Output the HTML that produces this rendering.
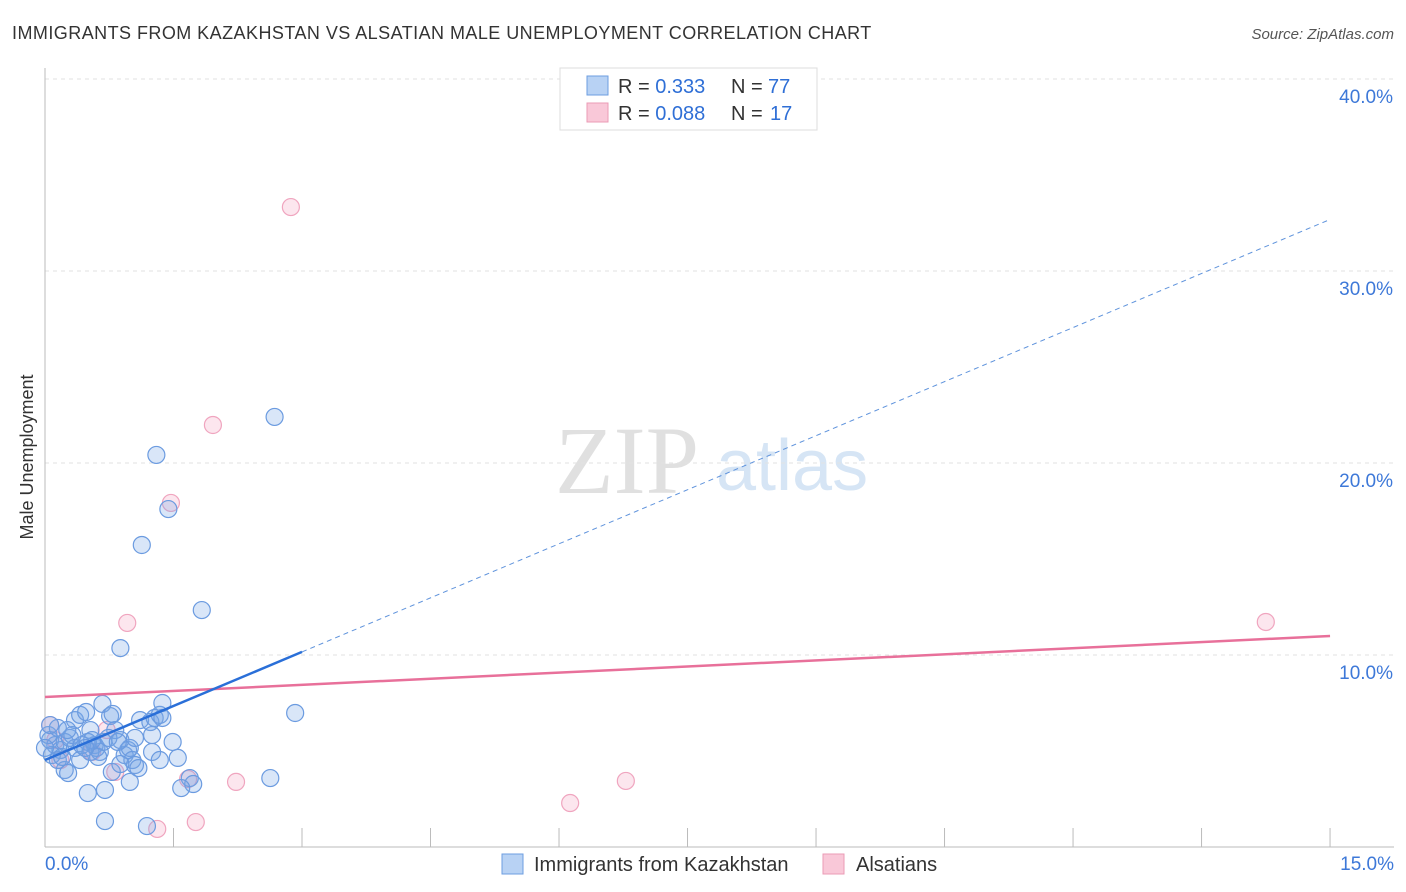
<!DOCTYPE html>
<html><head><meta charset="utf-8"><style>
body{margin:0;background:#fff;font-family:"Liberation Sans",sans-serif}
svg{display:block}
</style></head><body>
<svg id="c" width="1406" height="892">
<text x="12" y="39" font-size="18" fill="#333" letter-spacing="0.45">IMMIGRANTS FROM KAZAKHSTAN VS ALSATIAN MALE UNEMPLOYMENT CORRELATION CHART</text>
<text x="1394" y="39" font-size="15" fill="#555" font-style="italic" text-anchor="end">Source: ZipAtlas.com</text>
<text x="555" y="493" font-size="96" fill="#e0e0e0" font-family="Liberation Serif,serif">ZIP</text>
<text x="716" y="490" font-size="72" fill="#d6e5f5">atlas</text>
<text transform="translate(33,457) rotate(-90)" font-size="18" fill="#333" text-anchor="middle">Male Unemployment</text>
<g id="grid"></g><g id="marks"></g>
<g>
<rect x="560" y="68" width="257" height="62" fill="#fff" stroke="#ddd"/>
<rect x="587" y="76" width="21" height="19" fill="#b8d2f4" stroke="#6d9ee0"/>
<rect x="587" y="103" width="21" height="19" fill="#f9c8d8" stroke="#eb9bb6"/>
<text x="618" y="93" font-size="20" fill="#333">R = <tspan fill="#2f6fd6">0.333</tspan><tspan x="731">N = </tspan><tspan x="768" fill="#2f6fd6">77</tspan></text>
<text x="618" y="120" font-size="20" fill="#333">R = <tspan fill="#2f6fd6">0.088</tspan><tspan x="731">N = </tspan><tspan x="770" fill="#2f6fd6">17</tspan></text>
</g>
<g>
<rect x="502" y="854" width="21" height="20" fill="#b8d2f4" stroke="#6d9ee0"/>
<text x="534" y="871" font-size="20" fill="#333">Immigrants from Kazakhstan</text>
<rect x="823" y="854" width="21" height="20" fill="#f9c8d8" stroke="#eb9bb6"/>
<text x="856" y="871" font-size="20" fill="#333">Alsatians</text>
</g>
</svg>
<script>
const blueX=[2.68,1.30,1.44,1.13,1.83,0.88,2.92,2.63,0.06,0.12,0.04,0.18,0.08,0.23,0.29,0.15,0.35,0.41,0.48,0.53,0.58,0.64,0.67,0.76,0.79,0.82,0.88,0.93,0.97,0.99,1.02,1.05,1.09,1.11,1.23,1.28,1.34,1.37,1.37,1.25,1.25,1.34,1.49,1.55,0.78,0.99,0.70,0.50,0.23,0.27,0,0.15,0.20,0.35,0.41,0.53,0.60,0.68,0.74,0.85,1.05,0.06,0.32,0.50,0.55,0.62,0.43,1.69,1.73,1.59,0.70,1.19,0.47,0.26,0.88];
const blueY=[22.40,20.42,17.60,15.73,12.34,10.36,6.98,3.59,5.57,5.31,5.83,5.05,4.79,5.47,5.68,6.20,6.61,6.88,7.03,6.09,5.31,4.95,7.45,6.82,6.93,6.09,5.57,4.79,5.05,5.16,4.53,4.27,4.11,6.61,6.51,6.72,6.88,7.50,6.72,5.83,4.95,4.53,5.47,4.64,3.91,3.39,2.97,2.81,4.01,3.85,5.16,4.53,4.69,5.16,4.53,4.95,5.16,5.47,5.68,5.47,5.68,6.35,5.83,5.47,5.57,4.69,5.31,3.59,3.28,3.07,1.35,1.09,5.16,6.09,4.32];
const pinkX=[2.87,1.96,1.47,0.96,14.25,6.78,6.13,2.23,1.67,1.76,1.31,0.06,0.12,0.72,0.82,0.55,0.18];
const pinkY=[33.33,21.98,17.92,11.67,11.72,3.44,2.29,3.39,3.54,1.30,0.94,6.35,5.57,6.09,3.91,4.95,4.53];
const yTicks=[10,20,30,40];
const xTickVals=[0,1.5,3,4.5,6,7.5,9,10.5,12,13.5,15];
const blueFit=[4.53,1.877];
const pinkFit=[7.81,0.212];
const NS="http://www.w3.org/2000/svg";
const X=v=>45+v*85.67, Y=v=>847-v*19.2;
function mk(parent,tag,at){const e=document.createElementNS(NS,tag);for(const k in at)e.setAttribute(k,at[k]);parent.appendChild(e);return e;}
const g=document.getElementById('grid'), m=document.getElementById('marks');
yTicks.forEach(t=>{
 const l=mk(g,'line',{x1:45,x2:1394,y1:Y(t),y2:Y(t),stroke:'#e2e2e2','stroke-dasharray':'4,4'});
 
 
 const tx=mk(g,'text',{x:1393,y:Y(t)+24,'font-size':19,fill:'#3d78d8','text-anchor':'end'});tx.textContent=t.toFixed(1)+'%';
 
 
});
mk(g,'line',{x1:45,x2:45,y1:68,y2:847,stroke:'#bbb'});
mk(g,'line',{x1:45,x2:1394,y1:847,y2:847,stroke:'#bbb'});
xTickVals.forEach(t=>{const l=mk(g,'line',{x1:X(t),x2:X(t),y1:828,y2:847,stroke:'#bbb'});
 
 });
[[0,'0.0%','start',45],[15,'15.0%','end',1394]].forEach(a=>{const t=mk(g,'text',{x:a[3],y:870,'font-size':19,fill:'#3d78d8','text-anchor':a[2]});t.textContent=a[1];
 
 });
pinkX.forEach((x,i)=>{const c=mk(m,'circle',{cx:X(x),cy:Y(pinkY[i]),r:8.5,fill:'rgba(245,165,195,0.28)',stroke:'#f0a5bf','stroke-width':1.2});
 
 });
blueX.forEach((x,i)=>{const c=mk(m,'circle',{cx:X(x),cy:Y(blueY[i]),r:8.5,fill:'rgba(120,165,230,0.28)',stroke:'#6b9be0','stroke-width':1.2});
 
 });
const pl=mk(m,'line',{x1:X(0),y1:Y(pinkFit[0]),x2:X(15),y2:Y(pinkFit[0]+pinkFit[1]*15),stroke:'#e8709a','stroke-width':2.5});


const bl=mk(m,'line',{x1:X(0),y1:Y(blueFit[0]),x2:X(3),y2:Y(blueFit[0]+blueFit[1]*3),stroke:'#2a6fd8','stroke-width':2.5});


const bd=mk(m,'line',{x1:X(3),y1:Y(blueFit[0]+blueFit[1]*3),x2:X(15),y2:Y(blueFit[0]+blueFit[1]*15),stroke:'#5f93dc','stroke-width':1,'stroke-dasharray':'5,4'});


</script>
</body></html>
